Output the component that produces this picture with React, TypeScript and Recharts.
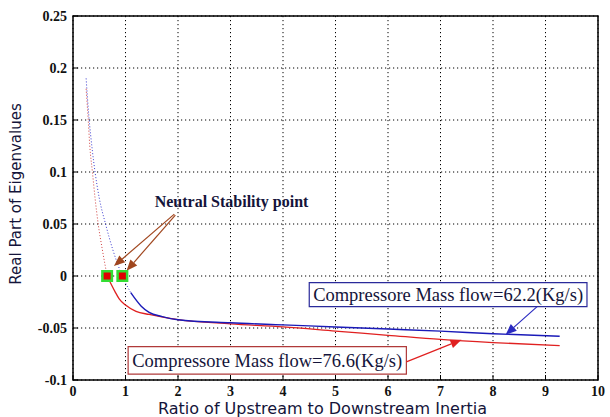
import React from 'react';
import {
  LineChart, Line, XAxis, YAxis, CartesianGrid, ReferenceArea, ReferenceLine, ReferenceDot
} from 'recharts';

// readings of the two eigenvalue curves (upper part drawn dotted, rest solid)
const blueDotX = [0.25, 0.3, 0.37, 0.42, 0.5, 0.62, 0.76, 0.94, 1.1];
const blueDotY = [0.19, 0.155, 0.12, 0.1, 0.075, 0.05, 0.025, 0, -0.016];
const blueSolidX = [1.1, 1.3, 1.45, 1.7, 2, 3, 4, 5, 6, 7, 8, 9.27];
const blueSolidY = [-0.016, -0.029, -0.035, -0.039, -0.042, -0.045, -0.047, -0.049, -0.051, -0.053, -0.0555, -0.058];

const redDotX = [0.25, 0.29, 0.32, 0.37, 0.42, 0.48, 0.56, 0.65];
const redDotY = [0.18, 0.15, 0.125, 0.1, 0.075, 0.05, 0.025, 0];
const redSolidX = [0.65, 0.8, 0.88, 1, 1.2, 1.45, 2, 3, 4, 5, 6, 7, 8, 9.27];
const redSolidY = [0, -0.015, -0.022, -0.028, -0.034, -0.037, -0.042, -0.046, -0.049, -0.053, -0.057, -0.061, -0.064, -0.067];

// neutral stability points (zero crossings)
const neutralX = [0.65, 0.94];

const xTicks = [0, 1, 2, 3, 4, 5, 6, 7, 8, 9, 10];
const yTicks = [-0.1, -0.05, 0, 0.05, 0.1, 0.15, 0.2, 0.25];
const yTickLabels = ['-0.1', '-0.05', '0', '0.05', '0.1', '0.15', '0.2', '0.25'];

const blueLabel = 'Compressore Mass flow=62.2(Kg/s)';
const redLabel = 'Compressore Mass flow=76.6(Kg/s)';
const noteLabel = 'Neutral Stability point';

const toPts = (xs: number[], ys: number[]) => xs.map((x, i) => ({ x, y: ys[i] }));
const blueDot = toPts(blueDotX, blueDotY);
const blueSolid = toPts(blueSolidX, blueSolidY);
const redDot = toPts(redDotX, redDotY);
const redSolid = toPts(redSolidX, redSolidY);

const tickFont = { fontFamily: '"Liberation Serif", serif', fontWeight: 700, fontSize: 14, fill: '#111' };

const XTick = (p: any) => (
  <g>
    <line x1={p.x} x2={p.x} y1={p.y} y2={p.y - 5} stroke="#000" />
    <text x={p.x} y={p.y + 16} textAnchor="middle" {...tickFont}>{p.payload.value}</text>
  </g>
);

const YTick = (p: any) => {
  const idx = yTicks.findIndex(v => Math.abs(v - p.payload.value) < 1e-9);
  return (
    <g>
      <line x1={p.x} x2={p.x + 5} y1={p.y} y2={p.y} stroke="#000" />
      <text x={p.x - 6} y={p.y + 5} textAnchor="end" {...tickFont}>{yTickLabels[idx]}</text>
    </g>
  );
};

const arrow = (color: string) => (p: any) => {
  const { x1, y1, x2, y2 } = p;
  const a = Math.atan2(y2 - y1, x2 - x1);
  const L = 11, W = 4.5;
  const bx = x2 - L * Math.cos(a), by = y2 - L * Math.sin(a);
  const pts = [
    [x2, y2],
    [bx + W * Math.sin(a), by - W * Math.cos(a)],
    [bx - W * Math.sin(a), by + W * Math.cos(a)],
  ].map(q => q.join(',')).join(' ');
  return (
    <g>
      <line x1={x1} y1={y1} x2={bx} y2={by} stroke={color} strokeWidth={1.2} />
      <polygon points={pts} fill={color} />
    </g>
  );
};

const marker = (p: any) => (
  <g>
    <rect x={p.cx - 6} y={p.cy - 6} width={12} height={12} fill="#33dd33" />
    <rect x={p.cx - 3.5} y={p.cy - 3.5} width={7} height={7} fill="#e00000" />
  </g>
);

const boxLabel = {
  position: 'center' as const,
  fill: '#14143a',
  fontSize: 18.5,
  fontFamily: '"Liberation Serif", serif',
};

export default function App() {
  return (
    <div style={{ position: 'absolute', left: 0, top: 0, width: 610, height: 417, background: '#fff', overflow: 'hidden' }}>
      <LineChart width={610} height={417} margin={{ top: 16, right: 12, bottom: 7, left: 13 }}>
        <CartesianGrid stroke="#000" strokeDasharray="1.2 2.8" horizontalValues={yTicks} verticalValues={xTicks} />
        <XAxis type="number" dataKey="x" domain={[0, 10]} ticks={xTicks} height={30}
          axisLine={false} tickLine={false} tickSize={0} tickMargin={0} tick={<XTick />} />
        <YAxis type="number" dataKey="y" domain={[-0.1, 0.25]} ticks={yTicks} width={60}
          axisLine={false} tickLine={false} tickSize={0} tickMargin={0} tick={<YTick />} />

        <ReferenceArea x1={0} x2={10} y1={-0.1} y2={0.25} fill="none" stroke="#000" strokeWidth={1.5} />

        <ReferenceArea x1={4.5} x2={9.79} y1={-0.0295} y2={-0.0063} fill="#fff" fillOpacity={1}
          stroke="#2a2a9a" strokeWidth={1.2} label={{ ...boxLabel, value: blueLabel }} />
        <ReferenceArea x1={1.05} x2={6.35} y1={-0.0943} y2={-0.068} fill="#fff" fillOpacity={1}
          stroke="#b03a3a" strokeWidth={1.2} label={{ ...boxLabel, value: redLabel }} />

        <Line data={blueDot} dataKey="y" type="monotone" stroke="#3a3ad0" strokeWidth={1}
          strokeDasharray="1 2" dot={false} isAnimationActive={false} />
        <Line data={redDot} dataKey="y" type="monotone" stroke="#d04040" strokeWidth={1}
          strokeDasharray="1 2" dot={false} isAnimationActive={false} />
        <Line data={redSolid} dataKey="y" type="monotone" stroke="#e02020" strokeWidth={1.3}
          dot={false} isAnimationActive={false} />
        <Line data={blueSolid} dataKey="y" type="monotone" stroke="#1a1ab8" strokeWidth={1.4}
          dot={false} isAnimationActive={false} />

        <ReferenceLine segment={[{ x: 1.93, y: 0.0595 }, { x: 0.78, y: 0.0095 }]} ifOverflow="visible"
          shape={arrow('#a0461e')} />
        <ReferenceLine segment={[{ x: 1.95, y: 0.0585 }, { x: 1.02, y: 0.005 }]} ifOverflow="visible"
          shape={arrow('#a0461e')} />
        <ReferenceLine segment={[{ x: 8.84, y: -0.0294 }, { x: 8.24, y: -0.0565 }]} ifOverflow="visible"
          shape={arrow('#2a2ac0')} />
        <ReferenceLine segment={[{ x: 6.35, y: -0.0826 }, { x: 7.4, y: -0.0613 }]} ifOverflow="visible"
          shape={arrow('#e02020')} />

        {neutralX.map(x => (
          <ReferenceDot key={x} x={x} y={0} r={6} shape={marker} ifOverflow="visible" />
        ))}

        <ReferenceDot x={3.02} y={0.072} r={1} fill="none" stroke="none"
          label={{ value: noteLabel, position: 'center', fill: '#14143a', fontSize: 16, fontWeight: 700,
            fontFamily: '"Liberation Serif", serif' }} />
      </LineChart>
      <div style={{ position: 'absolute', left: 0, top: 400, width: 645, textAlign: 'center',
        fontFamily: '"DejaVu Sans", sans-serif', fontSize: 16, color: '#14143a', lineHeight: '18px' }}>
        Ratio of Upstream to Downstream Inertia
      </div>
      <div style={{ position: 'absolute', left: 16, top: 194, width: 0, height: 0 }}>
        <div style={{ position: 'absolute', left: -100, top: -9, width: 200, textAlign: 'center',
          transform: 'rotate(-90deg)', fontFamily: '"DejaVu Sans", sans-serif', fontSize: 15,
          color: '#14143a', lineHeight: '18px', whiteSpace: 'nowrap' }}>
          Real Part of Eigenvalues
        </div>
      </div>
    </div>
  );
}
